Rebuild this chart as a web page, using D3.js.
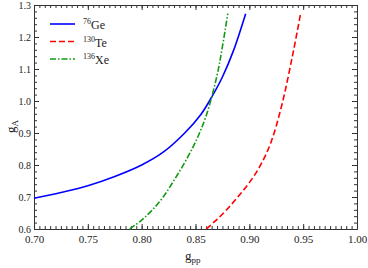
<!DOCTYPE html>
<html>
<head>
<meta charset="utf-8">
<script src="https://cdn.jsdelivr.net/npm/d3@7"></script>
<style>
  body { margin: 0; background: #fff; }
  text { font-family: "Liberation Serif", "DejaVu Serif", serif; fill: #222; }
  .axis path, .axis line { stroke: #333; }
</style>
</head>
<body>
<div id="chart-area"></div>
<script>
// values
let geX = [0.70, 0.725, 0.75, 0.775, 0.80, 0.82, 0.84, 0.855, 0.865, 0.875, 0.885, 0.8966];
let geY = [0.696, 0.714, 0.735, 0.764, 0.800, 0.840, 0.900, 0.958, 1.012, 1.075, 1.155, 1.273];
let teX = [0.860, 0.870, 0.880, 0.890, 0.900, 0.910, 0.920, 0.930, 0.940, 0.9476];
let teY = [0.600, 0.630, 0.664, 0.703, 0.745, 0.797, 0.870, 0.985, 1.140, 1.273];
let xeX = [0.789, 0.800, 0.810, 0.820, 0.830, 0.840, 0.850, 0.860, 0.870, 0.875, 0.880];
let xeY = [0.600, 0.628, 0.660, 0.700, 0.752, 0.808, 0.872, 0.955, 1.080, 1.170, 1.273];

let xTicks = [0.70, 0.75, 0.80, 0.85, 0.90, 0.95, 1.00];
let yTicks = [0.6, 0.7, 0.8, 0.9, 1.0, 1.1, 1.2, 1.3];

let series = [
  { name: "Ge", mass: "76", xs: geX, ys: geY, color: "#0000ff", dash: null },
  { name: "Te", mass: "130", xs: teX, ys: teY, color: "#ff0000", dash: "6,3" },
  { name: "Xe", mass: "136", xs: xeX, ys: xeY, color: "#139a13", dash: "6,2,1.5,2" }
];

let margin = { left: 34, top: 5, right: 11, bottom: 39 };
let width = 368 - margin.left - margin.right;
let height = 268 - margin.top - margin.bottom;
let serif = '"Liberation Serif", "DejaVu Serif", serif';

var svg = d3.select('#chart-area')
  .append('svg')
  .attr('width', 368)
  .attr('height', 268);

var g = svg.append('g')
  .attr('transform', 'translate(' + margin.left + ',' + margin.top + ')');

var x = d3.scaleLinear().domain([0.70, 1.00]).range([0, width]);
var y = d3.scaleLinear().domain([0.6, 1.3]).range([height, 0]);

var xMinor = d3.range(0, 61).map(function(i) { return 0.70 + i * 0.005; });
var yMinor = d3.range(0, 36).map(function(i) { return 0.6 + i * 0.02; });

function axisPair(axisFn, scale, major, minor, fmt, tr) {
  var a = g.append('g').attr('class', 'axis').attr('transform', tr);
  a.call(axisFn(scale).tickValues(minor).tickSize(-3).tickSizeOuter(0).tickFormat(''));
  var b = g.append('g').attr('class', 'axis').attr('transform', tr);
  b.call(axisFn(scale).tickValues(major).tickSize(-5).tickSizeOuter(0).tickFormat(fmt));
  b.attr('font-family', serif);
  return b;
}

var fx = d3.format('.2f');
var fy = d3.format('.1f');

var xb = axisPair(d3.axisBottom, x, xTicks, xMinor, fx, 'translate(0,' + height + ')');
xb.selectAll('text').attr('font-size', '11px').attr('y', 6).attr('fill', '#222');
axisPair(d3.axisTop, x, xTicks, xMinor, '', 'translate(0,0)');
var yl = axisPair(d3.axisLeft, y, yTicks, yMinor, fy, 'translate(0,0)');
yl.selectAll('text').attr('font-size', '10px').attr('x', -3).attr('fill', '#222');
axisPair(d3.axisRight, y, yTicks, yMinor, '', 'translate(' + width + ',0)');

// curves
var line = d3.line()
  .x(function(d) { return x(d[0]); })
  .y(function(d) { return y(d[1]); })
  .curve(d3.curveCatmullRom.alpha(0.5));

series.forEach(function(s) {
  var pts = s.xs.map(function(v, i) { return [v, s.ys[i]]; });
  g.append('path')
    .datum(pts)
    .attr('fill', 'none')
    .attr('stroke', s.color)
    .attr('stroke-width', 1.6)
    .attr('stroke-dasharray', s.dash)
    .attr('d', line);
});

// legend
var leg = svg.append('g').attr('transform', 'translate(50,24)');
series.forEach(function(s, i) {
  var row = leg.append('g').attr('transform', 'translate(0,' + (i * 17.5) + ')');
  row.append('line')
    .attr('x1', 0).attr('x2', 25)
    .attr('stroke', s.color)
    .attr('stroke-width', 1.6)
    .attr('stroke-dasharray', s.dash);
  var t = row.append('text').attr('x', 33).attr('y', 5).attr('font-size', '12px');
  t.append('tspan').attr('font-size', '8px').attr('dy', -5).text(s.mass);
  t.append('tspan').attr('dy', 5).text(s.name);
});

// axis titles
var xt = svg.append('text')
  .attr('x', 185)
  .attr('y', 260)
  .attr('font-size', '13px');
xt.append('tspan').text('g');
xt.append('tspan').attr('font-size', '9px').attr('dy', 3).text('pp');

var yt = svg.append('text')
  .attr('transform', 'translate(15,133) rotate(-90)')
  .attr('font-size', '13px');
yt.append('tspan').text('g');
yt.append('tspan').attr('font-size', '9px').attr('dy', 3).text('A');
</script>
</body>
</html>
